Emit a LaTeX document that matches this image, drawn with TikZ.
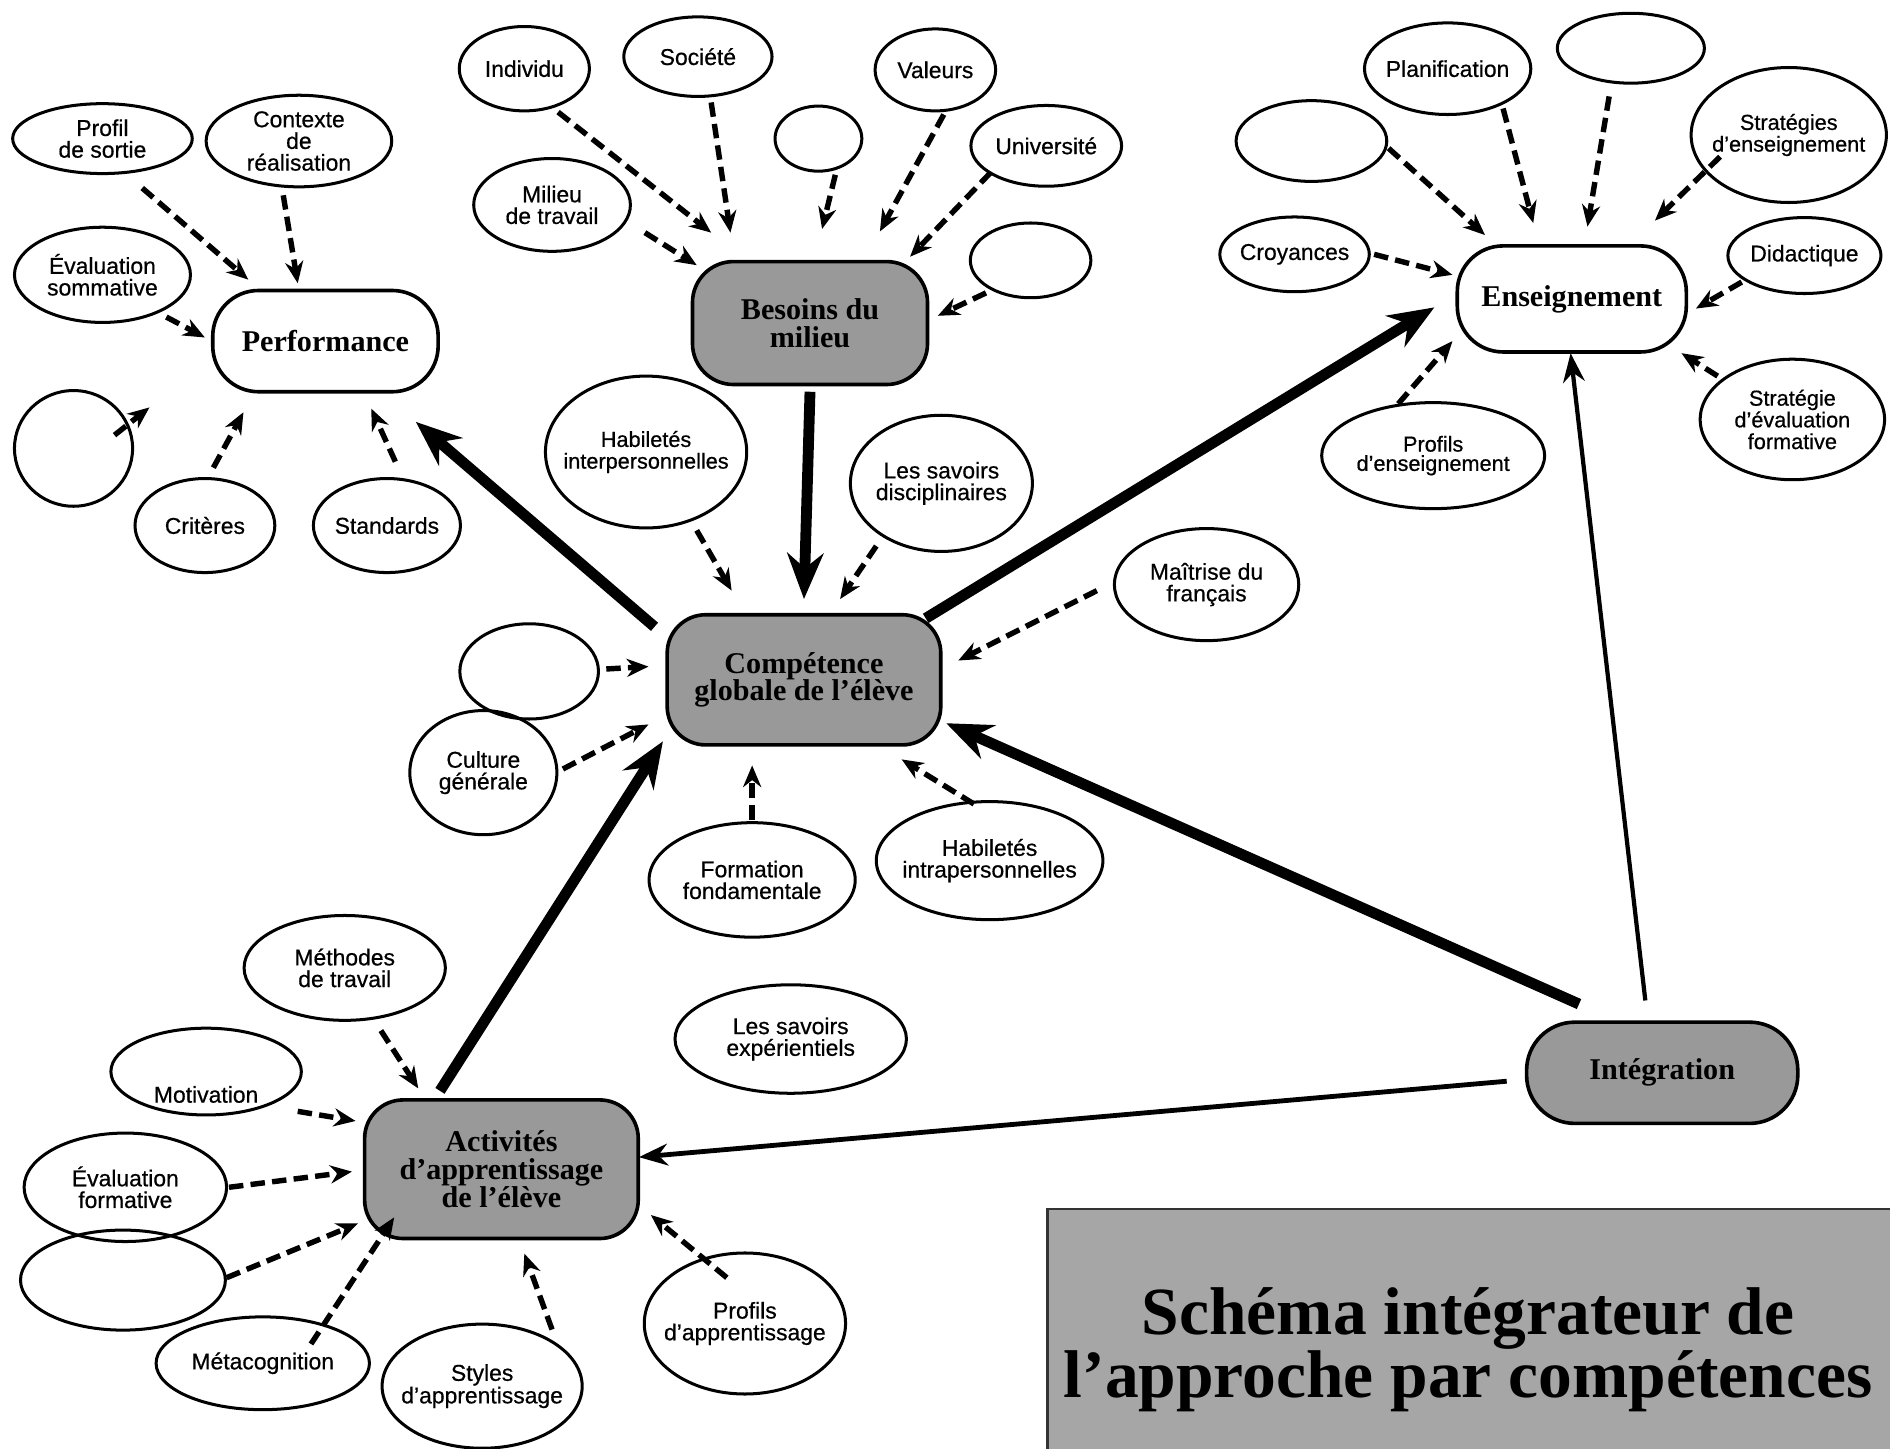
\documentclass[tikz,border=0pt]{standalone}
\usepackage{fontspec}
\setmainfont{Liberation Serif}
\newfontfamily\sansf[FakeBold=0.6]{Liberation Sans}
\usetikzlibrary{shapes.geometric,arrows.meta,calc}
\newcommand\labfont{\sansf\fontsize{19}{18}\selectfont}
\newcommand\hubfont{\bfseries\fontsize{25}{23}\selectfont}
\newcommand\titlefont{\bfseries\fontsize{56}{41}\selectfont}
\tikzset{
 ell/.style={draw, line width=2.5pt, ellipse, inner xsep=-60pt, inner ysep=-40pt, font=\labfont, align=center},
 hub/.style={draw, line width=3pt, rounded corners=32pt, font=\hubfont, align=center, inner sep=0pt},
 grayhub/.style={hub, fill=black!40},
 dasharrow/.style={line width=4.5pt, dash pattern=on 12pt off 6pt, -{Stealth[length=18pt,width=15pt]}},
 bigarrow/.style={line width=9pt, -{Stealth[length=38pt,width=30pt]}},
 midarrow/.style={line width=4pt, -{Stealth[length=24pt,width=18pt]}},
}
\begin{document}
\begin{tikzpicture}[x=1pt,y=-1pt]
\useasboundingbox[fill=white] (0,0) rectangle (1568,1202);
% title box
\node[draw=black!80, line width=2pt, fill=black!35, minimum width=704pt, minimum height=205pt, anchor=north west, inner sep=0pt] (titlebox) at (868,1002) {};
\node[font=\titlefont, align=center] (title) at (1218,1120) {Schéma intégrateur de\\l’approche par compétences};
% hubs
\node[hub, minimum width=187pt, minimum height=84pt, rounded corners=38pt] (perf) at (270,283) {Performance};
\node[grayhub, minimum width=195pt, minimum height=102pt, rounded corners=34pt] (bes) at (672,268) {Besoins du\\milieu};
\node[grayhub, minimum width=227pt, minimum height=108pt, rounded corners=32pt] (comp) at (667,564) {Compétence\\globale de l’élève};
\node[hub, minimum width=190pt, minimum height=88pt, rounded corners=38pt] (ens) at (1304,248) {Enseignement};
\node[grayhub, minimum width=225pt, minimum height=84pt, rounded corners=40pt] (integ) at (1379,890) {Intégration};
\node[grayhub, minimum width=227pt, minimum height=115pt, rounded corners=32pt] (act) at (416,970) {Activités\\d’apprentissage\\de l’élève};
% Performance cluster
\node[ell, minimum width=149pt, minimum height=58pt] (profil) at (85,115) {Profil\\de sortie};
\node[ell, minimum width=154pt, minimum height=76pt] (contexte) at (248,117) {\fontsize{19}{15}\selectfont Contexte\\de\\réalisation};
\node[ell, minimum width=146pt, minimum height=79pt] (evalsom) at (85,228) {Évaluation\\sommative};
\node[ell, minimum width=98pt, minimum height=96pt] (circ) at (61,372) {};
\node[ell, minimum width=116pt, minimum height=78pt] (crit) at (170,436) {Critères};
\node[ell, minimum width=122pt, minimum height=78pt] (stand) at (321,436) {Standards};
% Besoins cluster
\node[ell, minimum width=108pt, minimum height=70pt] (indiv) at (435,57) {Individu};
\node[ell, minimum width=123pt, minimum height=66pt] (soc) at (579,47) {Société};
\node[ell, minimum width=100pt, minimum height=68pt] (val) at (776,58) {Valeurs};
\node[ell, minimum width=72pt, minimum height=54pt] (emp1) at (679,115) {};
\node[ell, minimum width=125pt, minimum height=67pt] (univ) at (868,121) {Université};
\node[ell, minimum width=130pt, minimum height=77pt] (milieu) at (458,170) {Milieu\\de travail};
\node[ell, minimum width=100pt, minimum height=62pt] (emp2) at (855,216) {};
% Competence cluster
\node[ell, minimum width=167pt, minimum height=126pt, font=\sansf\fontsize{18}{18}\selectfont] (habinter) at (536,375) {Habiletés\\interpersonnelles};
\node[ell, minimum width=151pt, minimum height=113pt] (savdisc) at (781,401) {Les savoirs\\disciplinaires};
\node[ell, minimum width=153pt, minimum height=93pt] (maitrise) at (1001,485) {Maîtrise du\\français};
\node[ell, minimum width=115pt, minimum height=79pt] (emp3) at (439,557) {};
\node[ell, minimum width=122pt, minimum height=103pt] (culture) at (401,641) {Culture\\générale};
\node[ell, minimum width=171pt, minimum height=95pt] (formation) at (624,730) {Formation\\fondamentale};
\node[ell, minimum width=188pt, minimum height=98pt] (habintra) at (821,714) {Habiletés\\intrapersonnelles};
% Enseignement cluster
\node[ell, minimum width=138pt, minimum height=76pt] (plan) at (1201,57) {Planification};
\node[ell, minimum width=122pt, minimum height=58pt] (emp4) at (1353,40) {};
\node[ell, minimum width=162pt, minimum height=112pt, font=\sansf\fontsize{18}{18}\selectfont] (strens) at (1484,112) {Stratégies\\d’enseignement};
\node[ell, minimum width=125pt, minimum height=67pt] (emp5) at (1088,117) {};
\node[ell, minimum width=124pt, minimum height=62pt] (croy) at (1074,211) {Croyances};
\node[ell, minimum width=127pt, minimum height=63pt] (didac) at (1497,212) {Didactique};
\node[ell, minimum width=153pt, minimum height=100pt, font=\sansf\fontsize{18}{18}\selectfont] (streval) at (1487,348) {Stratégie\\d’évaluation\\formative};
\node[ell, minimum width=185pt, minimum height=88pt, font=\sansf\fontsize{18}{16}\selectfont] (profens) at (1189,378) {Profils\\d’enseignement};
% other
\node[ell, minimum width=192pt, minimum height=90pt] (savexp) at (656,862) {Les savoirs\\expérientiels};
% Activites cluster
\node[ell, minimum width=167pt, minimum height=87pt] (meth) at (286,803) {Méthodes\\de travail};
\node[ell, minimum width=158pt, minimum height=72pt, label={[font=\labfont, yshift=-19pt]center:Motivation}] (motiv) at (171,889) {};
\node[ell, minimum width=168pt, minimum height=90pt] (evalform) at (104,985) {Évaluation\\formative};
\node[ell, minimum width=170pt, minimum height=83pt] (emp6) at (102,1062) {};
\node[ell, minimum width=177pt, minimum height=77pt] (meta) at (218,1131) {Métacognition};
\node[ell, minimum width=166pt, minimum height=103pt, font=\sansf\fontsize{19}{16}\selectfont] (styles) at (400,1150) {Styles\\d’apprentissage};
\node[ell, minimum width=167pt, minimum height=117pt] (profapp) at (618,1098) {Profils\\d’apprentissage};
% ---- arrows: performance
\draw[dasharrow] ($(profil)+(33,41)$) -- ($(perf)+(-64,-51)$);
\draw[dasharrow] ($(contexte)+(-13,45)$) -- ($(perf)+(-23,-48)$);
\draw[dasharrow] ($(evalsom)+(53,35)$) -- ($(perf)+(-100,-3)$);
\draw[dasharrow] ($(circ)+(34,-11)$) -- ($(perf)+(-146,55)$);
\draw[dasharrow] ($(crit)+(7,-48)$) -- ($(perf)+(-68,59)$);
\draw[dasharrow] ($(stand)+(7,-53)$) -- ($(perf)+(38,56)$);
\draw[bigarrow] ($(comp)+(-124,-44)$) -- ($(perf)+(75,67)$);
% ---- besoins
\draw[dasharrow] ($(indiv)+(28,36)$) -- ($(bes)+(-82,-75)$);
\draw[dasharrow] ($(soc)+(11,38)$) -- ($(bes)+(-66,-75)$);
\draw[dasharrow] ($(milieu)+(77,23)$) -- ($(bes)+(-94,-48)$);
\draw[dasharrow] ($(emp1)+(14,30)$) -- ($(bes)+(10,-78)$);
\draw[dasharrow] ($(val)+(7,37)$) -- ($(bes)+(58,-76)$);
\draw[dasharrow] ($(univ)+(-46,22)$) -- ($(bes)+(83,-55)$);
\draw[dasharrow] ($(emp2)+(-37,27)$) -- ($(bes)+(106,-6)$);
\draw[bigarrow] ($(bes)+(0,57)$) -- ($(comp)+(0,-67)$);
% ---- competence
\draw[dasharrow] ($(habinter)+(42,65)$) -- ($(comp)+(-60,-74)$);
\draw[dasharrow] ($(savdisc)+(-54,52)$) -- ($(comp)+(30,-67)$);
\draw[dasharrow] ($(maitrise)+(-91,5)$) -- ($(comp)+(128,-16)$);
\draw[dasharrow] ($(emp3)+(64,-2)$) -- ($(comp)+(-129,-11)$);
\draw[dasharrow] ($(culture)+(66,-3)$) -- ($(comp)+(-129,37)$);
\draw[dasharrow] ($(formation)+(0,-50)$) -- ($(comp)+(-43,71)$);
\draw[dasharrow] ($(habintra)+(-13,-47)$) -- ($(comp)+(81,66)$);
\draw[bigarrow] ($(comp)+(101,-51)$) -- ($(ens)+(-114,7)$);
% ---- enseignement
\draw[dasharrow] ($(emp5)+(64,6)$) -- ($(ens)+(-72,-53)$);
\draw[dasharrow] ($(plan)+(46,33)$) -- ($(ens)+(-32,-63)$);
\draw[dasharrow] ($(emp4)+(-18,40)$) -- ($(ens)+(13,-60)$);
\draw[dasharrow] ($(strens)+(-57,18)$) -- ($(ens)+(69,-65)$);
\draw[dasharrow] ($(croy)+(66,0)$) -- ($(ens)+(-99,-20)$);
\draw[dasharrow] ($(didac)+(-52,22)$) -- ($(ens)+(103,8)$);
\draw[dasharrow] ($(streval)+(-62,-36)$) -- ($(ens)+(91,45)$);
\draw[dasharrow] ($(profens)+(-29,-43)$) -- ($(ens)+(-99,35)$);
% ---- integration
\draw[bigarrow] ($(integ)+(-69,-57)$) -- ($(comp)+(118,36)$);
\draw[midarrow, line width=3.5pt] ($(integ)+(-14,-60)$) -- ($(ens)+(-1,45)$);
\draw[midarrow] ($(integ)+(-129,7)$) -- ($(act)+(114,-10)$);
% ---- activites
\draw[bigarrow] ($(act)+(-51,-65)$) -- ($(comp)+(-117,51)$);
\draw[dasharrow] ($(meth)+(30,52)$) -- ($(act)+(-69,-67)$);
\draw[dasharrow] ($(motiv)+(76,33)$) -- ($(act)+(-121,-40)$);
\draw[dasharrow] ($(evalform)+(86,0)$) -- ($(act)+(-124,2)$);
\draw[dasharrow] ($(emp6)+(86,-2)$) -- ($(act)+(-119,45)$);
\draw[dasharrow] ($(meta)+(40,-16)$) -- ($(act)+(-89,40)$);
\draw[dasharrow] ($(styles)+(58,-47)$) -- ($(act)+(19,70)$);
\draw[dasharrow] ($(profapp)+(-15,-38)$) -- ($(act)+(124,38)$);
\end{tikzpicture}
\end{document}
